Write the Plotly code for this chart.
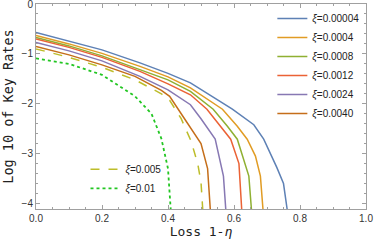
import plotly.graph_objects as go

# data: (loss x, log10 key rate y)
labels = ["0.00004", "0.0004", "0.0008", "0.0012", "0.0024", "0.0040"]
colors = ["#5E81B5", "#E19C24", "#8FB032", "#EB6235", "#8778B3", "#C56E1A"]

x_blue = [0, 0.1, 0.2, 0.315, 0.4, 0.468, 0.595, 0.66, 0.69, 0.73, 0.75, 0.765]
y_blue = [-0.57, -0.74, -0.92, -1.18, -1.39, -1.58, -2.11, -2.42, -2.71, -3.28, -3.6, -4.3]
x_orange = [0, 0.1, 0.2, 0.315, 0.4, 0.468, 0.565, 0.61, 0.64, 0.665, 0.68, 0.69]
y_orange = [-0.63, -0.8, -0.99, -1.25, -1.46, -1.68, -2.11, -2.45, -2.71, -3.05, -3.45, -4.3]
x_green = [0, 0.1, 0.2, 0.315, 0.4, 0.468, 0.537, 0.58, 0.61, 0.645, 0.655]
y_green = [-0.67, -0.84, -1.04, -1.31, -1.52, -1.75, -2.11, -2.45, -2.71, -3.45, -4.3]
x_red = [0, 0.1, 0.2, 0.315, 0.4, 0.468, 0.518, 0.56, 0.59, 0.615, 0.625]
y_red = [-0.70, -0.87, -1.07, -1.35, -1.6, -1.82, -2.11, -2.45, -2.71, -3.2, -4.3]
x_purple = [0, 0.1, 0.2, 0.315, 0.4, 0.468, 0.5, 0.543, 0.568, 0.577]
y_purple = [-0.77, -0.94, -1.14, -1.45, -1.72, -2.02, -2.3, -2.71, -3.45, -4.3]
x_brown = [0, 0.1, 0.2, 0.3, 0.38, 0.405, 0.44, 0.47, 0.5, 0.52, 0.53]
y_brown = [-0.85, -1.02, -1.22, -1.45, -1.73, -1.85, -2.2, -2.5, -2.8, -3.3, -4.3]

x_dash = [0, 0.1, 0.2, 0.3, 0.38, 0.405, 0.44, 0.47, 0.49, 0.5, 0.507]
y_dash = [-0.9, -1.07, -1.27, -1.52, -1.8, -1.93, -2.3, -2.75, -3.2, -3.57, -4.3]
x_dot = [0, 0.1, 0.2, 0.3, 0.35, 0.38, 0.4, 0.41]
y_dot = [-1.09, -1.2, -1.42, -1.85, -2.2, -2.7, -3.3, -4.3]

xs = [x_blue, x_orange, x_green, x_red, x_purple, x_brown]
ys = [y_blue, y_orange, y_green, y_red, y_purple, y_brown]

fig = go.Figure()
for lab, c, xv, yv in zip(labels, colors, xs, ys):
    fig.add_trace(go.Scatter(x=xv, y=yv, mode="lines", name="<i>ξ</i>=" + lab,
                             line=dict(color=c, width=1.5), legend="legend"))
fig.add_trace(go.Scatter(x=x_dash, y=y_dash, mode="lines", name="<i>ξ</i>=0.005",
                         line=dict(color="#BDBD2A", width=1.5, dash="dash"), legend="legend2"))
fig.add_trace(go.Scatter(x=x_dot, y=y_dot, mode="lines", name="<i>ξ</i>=0.01",
                         line=dict(color="#22C622", width=1.8, dash="dot"), legend="legend2"))

axis_common = dict(showline=True, linecolor="#A0A0A0", linewidth=1, mirror="ticks",
                   ticks="inside", ticklen=4, tickcolor="#A0A0A0", showgrid=False,
                   zeroline=False, ticklabeloverflow="allow", automargin=False,
                   tickfont=dict(family="Liberation Sans, Arial", size=10, color="#333"))

fig.update_layout(
    width=374, height=244,
    margin=dict(l=36, r=8, t=4, b=35),
    plot_bgcolor="white", paper_bgcolor="white",
    xaxis=dict(range=[0, 1], dtick=0.2, tickformat=".1f",
               minor=dict(ticks="inside", dtick=0.05, ticklen=2, tickcolor="#A0A0A0"),
               title=dict(text="Loss 1<i>-η</i>", standoff=2,
                          font=dict(family="DejaVu Sans Mono", size=13, color="#222")),
               **axis_common),
    yaxis=dict(range=[-4.11, 0], dtick=1,
               minor=dict(ticks="inside", dtick=0.2, ticklen=2, tickcolor="#A0A0A0"),
               title=dict(text="Log 10 of Key Rates", standoff=4,
                          font=dict(family="DejaVu Sans Mono", size=13.5, color="#222")),
               **axis_common),
    legend=dict(x=0.995, y=1.0, xanchor="right", yanchor="top", bgcolor="rgba(0,0,0,0)",
                font=dict(family="Liberation Sans, Arial", size=10, color="#222"),
                itemwidth=30, tracegroupgap=0),
    legend2=dict(x=0.15, y=0.03, xanchor="left", yanchor="bottom", bgcolor="rgba(0,0,0,0)",
                 font=dict(family="Liberation Sans, Arial", size=10, color="#222"),
                 itemwidth=30),
    showlegend=True,
)

fig.write_html("out.html", config={"displayModeBar": False},
               post_script="document.body.style.margin='0';document.body.style.overflow='hidden';")
